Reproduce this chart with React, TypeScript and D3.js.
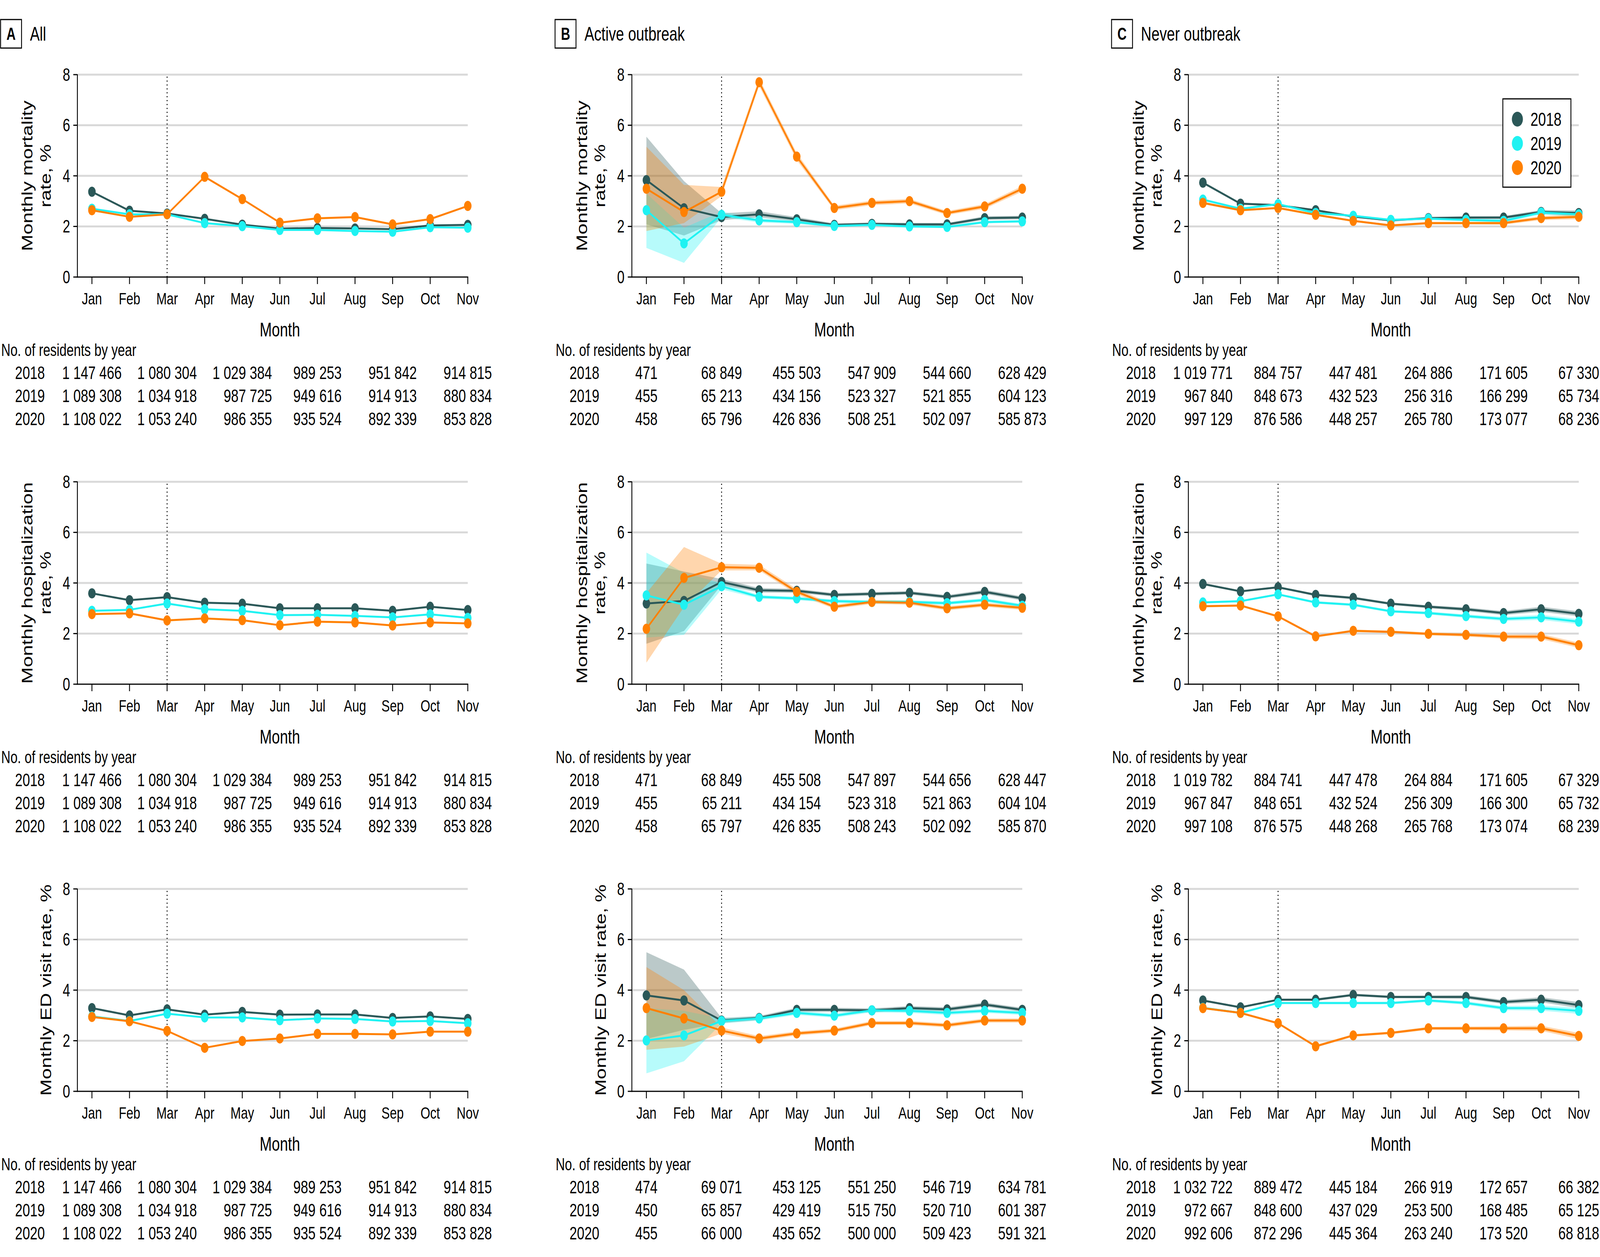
import React from 'react';
import * as d3 from 'd3';

// ---- data ----
const months = ['Jan', 'Feb', 'Mar', 'Apr', 'May', 'Jun', 'Jul', 'Aug', 'Sep', 'Oct', 'Nov'];
const tableMonths = ['Jan', 'Mar', 'May', 'Jul', 'Sep', 'Nov'];
const years = ['2018', '2019', '2020'];
const yTicks = [0, 2, 4, 6, 8];
const panelLetters = ['A', 'B', 'C'];
const panelTitles = ['All', 'Active outbreak', 'Never outbreak'];
const outcomeTitles = [
  ['Monthly mortality', 'rate, %'],
  ['Monthly hospitalization', 'rate, %'],
  ['Monthly ED visit rate, %'],
];

// mortality
const mortAll2018 = [3.37, 2.62, 2.51, 2.3, 2.07, 1.91, 1.94, 1.92, 1.89, 2.04, 2.06];
const mortAll2019 = [2.7, 2.48, 2.48, 2.13, 2.01, 1.86, 1.86, 1.82, 1.79, 1.97, 1.95];
const mortAll2020 = [2.64, 2.38, 2.48, 3.96, 3.08, 2.15, 2.32, 2.37, 2.08, 2.29, 2.81];
const mortActive2018 = [3.83, 2.72, 2.37, 2.48, 2.28, 2.06, 2.1, 2.08, 2.08, 2.33, 2.35];
const mortActive2019 = [2.64, 1.33, 2.46, 2.24, 2.17, 2.02, 2.06, 2.0, 1.98, 2.17, 2.2];
const mortActive2020 = [3.49, 2.57, 3.37, 7.7, 4.76, 2.73, 2.93, 3.0, 2.53, 2.79, 3.49];
const mortNever2018 = [3.73, 2.9, 2.84, 2.64, 2.39, 2.24, 2.33, 2.35, 2.35, 2.57, 2.53];
const mortNever2019 = [3.06, 2.7, 2.88, 2.53, 2.42, 2.26, 2.31, 2.26, 2.22, 2.55, 2.48];
const mortNever2020 = [2.93, 2.64, 2.73, 2.46, 2.22, 2.04, 2.13, 2.13, 2.13, 2.33, 2.38];

// hospitalization
const hospAll2018 = [3.59, 3.32, 3.44, 3.22, 3.18, 3.0, 3.0, 3.0, 2.9, 3.06, 2.93];
const hospAll2019 = [2.9, 2.94, 3.19, 2.96, 2.9, 2.73, 2.74, 2.7, 2.64, 2.76, 2.62];
const hospAll2020 = [2.77, 2.8, 2.52, 2.6, 2.53, 2.33, 2.47, 2.44, 2.32, 2.44, 2.4];
const hospActive2018 = [3.19, 3.29, 4.04, 3.71, 3.69, 3.53, 3.57, 3.61, 3.45, 3.65, 3.39];
const hospActive2019 = [3.51, 3.14, 3.87, 3.45, 3.39, 3.28, 3.25, 3.25, 3.2, 3.33, 3.1];
const hospActive2020 = [2.19, 4.2, 4.62, 4.6, 3.65, 3.06, 3.25, 3.22, 3.0, 3.14, 3.02];
const hospNever2018 = [3.96, 3.67, 3.83, 3.53, 3.41, 3.18, 3.06, 2.96, 2.81, 2.96, 2.78];
const hospNever2019 = [3.23, 3.28, 3.55, 3.23, 3.14, 2.88, 2.81, 2.69, 2.58, 2.64, 2.47];
const hospNever2020 = [3.08, 3.11, 2.68, 1.89, 2.11, 2.07, 1.99, 1.95, 1.88, 1.88, 1.54];

// ED visits
const edAll2018 = [3.29, 3.0, 3.24, 3.03, 3.14, 3.03, 3.04, 3.04, 2.9, 2.96, 2.86];
const edAll2019 = [2.96, 2.78, 3.07, 2.92, 2.92, 2.81, 2.88, 2.86, 2.76, 2.78, 2.69];
const edAll2020 = [2.94, 2.77, 2.39, 1.72, 1.99, 2.09, 2.27, 2.27, 2.25, 2.36, 2.36];
const edActive2018 = [3.79, 3.59, 2.8, 2.9, 3.22, 3.22, 3.2, 3.29, 3.24, 3.43, 3.22];
const edActive2019 = [2.01, 2.21, 2.78, 2.88, 3.1, 2.99, 3.2, 3.18, 3.1, 3.18, 3.1];
const edActive2020 = [3.29, 2.88, 2.4, 2.09, 2.29, 2.4, 2.7, 2.7, 2.61, 2.8, 2.8];
const edNever2018 = [3.59, 3.32, 3.62, 3.62, 3.81, 3.73, 3.73, 3.73, 3.53, 3.62, 3.41];
const edNever2019 = [3.3, 3.1, 3.49, 3.49, 3.49, 3.49, 3.59, 3.49, 3.29, 3.29, 3.18];
const edNever2020 = [3.29, 3.1, 2.69, 1.78, 2.21, 2.31, 2.49, 2.49, 2.49, 2.49, 2.19];

// 95% CI bands, active outbreak panels
const mortActive2018Lo = [2.08, 1.64, 2.25, 2.36, 2.2, 2.0, 2.04, 2.02, 2.02, 2.26, 2.28];
const mortActive2018Hi = [5.55, 3.79, 2.52, 2.6, 2.37, 2.12, 2.16, 2.14, 2.14, 2.4, 2.42];
const mortActive2019Lo = [1.15, 0.56, 2.36, 2.16, 2.1, 1.97, 2.01, 1.95, 1.93, 2.12, 2.15];
const mortActive2019Hi = [3.3, 1.95, 2.58, 2.32, 2.24, 2.07, 2.11, 2.05, 2.03, 2.22, 2.25];
const mortActive2020Lo = [1.82, 2.13, 3.2, 7.55, 4.62, 2.64, 2.84, 2.91, 2.45, 2.7, 3.38];
const mortActive2020Hi = [5.15, 3.64, 3.56, 7.85, 4.9, 2.82, 3.02, 3.09, 2.61, 2.88, 3.6];

const hospActive2018Lo = [1.6, 2.1, 3.92, 3.62, 3.61, 3.46, 3.5, 3.54, 3.38, 3.57, 3.31];
const hospActive2018Hi = [4.77, 4.45, 4.16, 3.8, 3.77, 3.6, 3.64, 3.68, 3.52, 3.73, 3.47];
const hospActive2019Lo = [1.84, 1.95, 3.75, 3.38, 3.32, 3.21, 3.18, 3.18, 3.13, 3.26, 3.03];
const hospActive2019Hi = [5.2, 4.4, 3.99, 3.52, 3.46, 3.35, 3.32, 3.32, 3.27, 3.4, 3.17];
const hospActive2020Lo = [0.85, 3.05, 4.5, 4.5, 3.55, 2.98, 3.17, 3.14, 2.92, 3.06, 2.94];
const hospActive2020Hi = [3.6, 5.42, 4.76, 4.72, 3.76, 3.14, 3.33, 3.3, 3.08, 3.22, 3.1];

const edActive2018Lo = [2.07, 2.43, 2.7, 2.82, 3.14, 3.14, 3.12, 3.21, 3.16, 3.35, 3.14];
const edActive2018Hi = [5.5, 4.81, 2.9, 2.98, 3.3, 3.3, 3.28, 3.37, 3.32, 3.51, 3.3];
const edActive2019Lo = [0.71, 1.19, 2.68, 2.8, 3.02, 2.91, 3.12, 3.1, 3.02, 3.1, 3.02];
const edActive2019Hi = [3.29, 3.18, 2.88, 2.96, 3.18, 3.07, 3.28, 3.26, 3.18, 3.26, 3.18];
const edActive2020Lo = [1.64, 1.77, 2.28, 2.0, 2.21, 2.32, 2.62, 2.62, 2.53, 2.72, 2.72];
const edActive2020Hi = [4.91, 4.0, 2.52, 2.18, 2.37, 2.48, 2.78, 2.78, 2.69, 2.88, 2.88];

// CI half widths, never outbreak panels
const mortNeverHalf = [0.05, 0.04, 0.04, 0.04, 0.04, 0.04, 0.05, 0.05, 0.06, 0.08, 0.1];
const hospNeverHalf = [0.04, 0.04, 0.04, 0.05, 0.05, 0.05, 0.06, 0.07, 0.08, 0.1, 0.1];
const edNeverHalf = [0.04, 0.04, 0.04, 0.05, 0.05, 0.05, 0.06, 0.07, 0.08, 0.1, 0.12];

// residents (Jan, Mar, May, Jul, Sep, Nov)
const resAll2018 = [1147466, 1080304, 1029384, 989253, 951842, 914815];
const resAll2019 = [1089308, 1034918, 987725, 949616, 914913, 880834];
const resAll2020 = [1108022, 1053240, 986355, 935524, 892339, 853828];

const resActiveMort2018 = [471, 68849, 455503, 547909, 544660, 628429];
const resActiveMort2019 = [455, 65213, 434156, 523327, 521855, 604123];
const resActiveMort2020 = [458, 65796, 426836, 508251, 502097, 585873];
const resActiveHosp2018 = [471, 68849, 455508, 547897, 544656, 628447];
const resActiveHosp2019 = [455, 65211, 434154, 523318, 521863, 604104];
const resActiveHosp2020 = [458, 65797, 426835, 508243, 502092, 585870];
const resActiveEd2018 = [474, 69071, 453125, 551250, 546719, 634781];
const resActiveEd2019 = [450, 65857, 429419, 515750, 520710, 601387];
const resActiveEd2020 = [455, 66000, 435652, 500000, 509423, 591321];

const resNeverMort2018 = [1019771, 884757, 447481, 264886, 171605, 67330];
const resNeverMort2019 = [967840, 848673, 432523, 256316, 166299, 65734];
const resNeverMort2020 = [997129, 876586, 448257, 265780, 173077, 68236];
const resNeverHosp2018 = [1019782, 884741, 447478, 264884, 171605, 67329];
const resNeverHosp2019 = [967847, 848651, 432524, 256309, 166300, 65732];
const resNeverHosp2020 = [997108, 876575, 448268, 265768, 173074, 68239];
const resNeverEd2018 = [1032722, 889472, 445184, 266919, 172657, 66382];
const resNeverEd2019 = [972667, 848600, 437029, 253500, 168485, 65125];
const resNeverEd2020 = [992606, 872296, 445364, 263240, 173520, 68818];

// ---- assemble ----
type Series = { values: number[]; lo?: number[]; hi?: number[] };
type Panel = { series: Series[]; residents: number[][] };

const fromHalf = (v: number[], h: number[]) => ({
  values: v,
  lo: v.map((d, i) => d - h[i]),
  hi: v.map((d, i) => d + h[i]),
});

const grid: Panel[][] = [
  [
    { series: [{ values: mortAll2018 }, { values: mortAll2019 }, { values: mortAll2020 }], residents: [resAll2018, resAll2019, resAll2020] },
    {
      series: [
        { values: mortActive2018, lo: mortActive2018Lo, hi: mortActive2018Hi },
        { values: mortActive2019, lo: mortActive2019Lo, hi: mortActive2019Hi },
        { values: mortActive2020, lo: mortActive2020Lo, hi: mortActive2020Hi },
      ],
      residents: [resActiveMort2018, resActiveMort2019, resActiveMort2020],
    },
    {
      series: [fromHalf(mortNever2018, mortNeverHalf), fromHalf(mortNever2019, mortNeverHalf), fromHalf(mortNever2020, mortNeverHalf)],
      residents: [resNeverMort2018, resNeverMort2019, resNeverMort2020],
    },
  ],
  [
    { series: [{ values: hospAll2018 }, { values: hospAll2019 }, { values: hospAll2020 }], residents: [resAll2018, resAll2019, resAll2020] },
    {
      series: [
        { values: hospActive2018, lo: hospActive2018Lo, hi: hospActive2018Hi },
        { values: hospActive2019, lo: hospActive2019Lo, hi: hospActive2019Hi },
        { values: hospActive2020, lo: hospActive2020Lo, hi: hospActive2020Hi },
      ],
      residents: [resActiveHosp2018, resActiveHosp2019, resActiveHosp2020],
    },
    {
      series: [fromHalf(hospNever2018, hospNeverHalf), fromHalf(hospNever2019, hospNeverHalf), fromHalf(hospNever2020, hospNeverHalf)],
      residents: [resNeverHosp2018, resNeverHosp2019, resNeverHosp2020],
    },
  ],
  [
    { series: [{ values: edAll2018 }, { values: edAll2019 }, { values: edAll2020 }], residents: [resAll2018, resAll2019, resAll2020] },
    {
      series: [
        { values: edActive2018, lo: edActive2018Lo, hi: edActive2018Hi },
        { values: edActive2019, lo: edActive2019Lo, hi: edActive2019Hi },
        { values: edActive2020, lo: edActive2020Lo, hi: edActive2020Hi },
      ],
      residents: [resActiveEd2018, resActiveEd2019, resActiveEd2020],
    },
    {
      series: [fromHalf(edNever2018, edNeverHalf), fromHalf(edNever2019, edNeverHalf), fromHalf(edNever2020, edNeverHalf)],
      residents: [resNeverEd2018, resNeverEd2019, resNeverEd2020],
    },
  ],
];

// ---- layout / style ----
const W = 5500;
const H = 3217;
const FONT = '"Liberation Sans", Arial, sans-serif';
const colors = ['#2b5858', '#1ff2f2', '#ff8000'];
const panelX = [0, 1906, 3819];
const rowY = [0, 1042, 2084];
const axisX = 266;
const janX = 316;
const novX = 1608;
const plotTop = 191;
const plotBottom = 709;

const fmt = (n: number) => d3.format(',')(n).replace(/,/g, ' ');
// rough text width for Liberation Sans digits / spaces
const numWidth = (s: string, fs: number) =>
  s.split('').reduce((w, ch) => w + (ch === ' ' ? 0.278 : 0.556) * fs, 0);

const Chart: React.FC<{ r: number; p: number }> = ({ r, p }) => {
  const ox = panelX[p];
  const oy = rowY[r];
  const panel = grid[r][p];
  const x = d3.scalePoint<string>().domain(months).range([ox + janX, ox + novX]);
  const y = d3.scaleLinear().domain([0, 8]).range([oy + plotBottom, oy + plotTop]);
  const xi = (i: number) => x(months[i]) as number;

  const line = d3.line<number>().x((_, i) => xi(i)).y(d => y(d));

  const bandPath = (s: Series) => {
    if (!s.lo || !s.hi) return null;
    const a = d3
      .area<number>()
      .x((_, i) => xi(i))
      .y0((_, i) => y(s.lo![i]))
      .y1((_, i) => y(s.hi![i]));
    return a(s.values);
  };

  const yTitle = outcomeTitles[r];
  const cy = (y(0) + y(8)) / 2;
  const tableFs = 46;

  return (
    <g>
      {/* gridlines */}
      {yTicks.filter(t => t > 0).map(t => (
        <line key={'g' + t} x1={ox + axisX + 2} x2={ox + novX} y1={y(t)} y2={y(t)} stroke="#d9d9d9" strokeWidth={5} />
      ))}
      {/* y axis */}
      <line x1={ox + axisX} x2={ox + axisX} y1={y(0) + 1.5} y2={y(8) - 1} stroke="#000" strokeWidth={3} />
      {yTicks.map(t => (
        <g key={'yt' + t}>
          <line x1={ox + axisX - 14} x2={ox + axisX} y1={y(t)} y2={y(t)} stroke="#000" strokeWidth={3} />
          <text x={ox + axisX - 25} y={y(t) + 16} textAnchor="end" fontSize={46} fontFamily={FONT}>
            {t}
          </text>
        </g>
      ))}
      {/* x axis */}
      <line x1={ox + axisX} x2={ox + novX + 1.5} y1={y(0)} y2={y(0)} stroke="#000" strokeWidth={3} />
      {months.map(m => (
        <g key={'xt' + m}>
          <line x1={x(m)} x2={x(m)} y1={y(0)} y2={y(0) + 18} stroke="#000" strokeWidth={3} />
          <text x={x(m)} y={oy + 779} textAnchor="middle" fontSize={43} fontFamily={FONT}>
            {m}
          </text>
        </g>
      ))}
      <text x={ox + (janX + novX) / 2} y={oy + 861} textAnchor="middle" fontSize={50} fontFamily={FONT}>
        Month
      </text>
      {/* March marker */}
      <line x1={x('Mar')} x2={x('Mar')} y1={y(0)} y2={y(8)} stroke="#000" strokeWidth={3} strokeDasharray="3 7" />

      {/* y title */}
      {yTitle.length === 2 ? (
        <>
          <text transform={`translate(${ox + 112},${cy}) rotate(-90)`} textAnchor="middle" fontSize={51} fontFamily={FONT}>
            {yTitle[0]}
          </text>
          <text transform={`translate(${ox + 174},${cy}) rotate(-90)`} textAnchor="middle" fontSize={51} fontFamily={FONT}>
            {yTitle[1]}
          </text>
        </>
      ) : (
        <text transform={`translate(${ox + 176},${cy}) rotate(-90)`} textAnchor="middle" fontSize={51} fontFamily={FONT}>
          {yTitle[0]}
        </text>
      )}

      {/* bands */}
      {panel.series.map((s, k) => {
        const d = bandPath(s);
        return d ? <path key={'b' + k} d={d} fill={colors[k]} fillOpacity={0.32} stroke="none" /> : null;
      })}
      {/* lines and points */}
      {panel.series.map((s, k) => (
        <g key={'s' + k}>
          <path d={line(s.values) || ''} fill="none" stroke={colors[k]} strokeWidth={5} strokeLinejoin="round" />
          {s.values.map((v, i) => (
            <circle key={i} cx={xi(i)} cy={y(v)} r={13} fill={colors[k]} />
          ))}
        </g>
      ))}

      {/* residents table */}
      <text x={ox + 4} y={oy + 911} fontSize={44} fontFamily={FONT}>
        No. of residents by year
      </text>
      {years.map((yr, k) => (
        <text key={'yr' + yr} x={ox + 103} y={oy + 970 + k * 59} textAnchor="middle" fontSize={tableFs} fontFamily={FONT}>
          {yr}
        </text>
      ))}
      {tableMonths.map((m, c) => {
        const strs = panel.residents.map(row => fmt(row[c]));
        const maxW = d3.max(strs, s => numWidth(s, tableFs)) || 0;
        const right = (x(m) as number) + maxW / 2;
        return strs.map((s, k) => (
          <text key={'n' + c + '-' + k} x={right} y={oy + 970 + k * 59} textAnchor="end" fontSize={tableFs} fontFamily={FONT}>
            {s}
          </text>
        ));
      })}
    </g>
  );
};

const App: React.FC = () => {
  const lx = panelX[2] + 1347;
  return (
    <>
      <style>{'html,body{margin:0;padding:0;overflow:hidden;background:#fff}'}</style>
      <svg
        viewBox={`0 0 ${W} ${H}`}
        preserveAspectRatio="none"
        style={{ position: 'absolute', left: 0, top: 0, width: '100vw', height: '100vh', display: 'block' }}
      >
        <rect width={W} height={H} fill="#fff" />
        {panelLetters.map((L, p) => (
          <g key={L}>
            <rect x={panelX[p] + 2} y={50} width={72} height={73} fill="none" stroke="#000" strokeWidth={3} />
            <text x={panelX[p] + 38} y={102} textAnchor="middle" fontSize={44} fontWeight="bold" fontFamily={FONT}>
              {L}
            </text>
            <text x={panelX[p] + 103} y={104} fontSize={50} fontFamily={FONT}>
              {panelTitles[p]}
            </text>
          </g>
        ))}
        {[0, 1, 2].map(r => [0, 1, 2].map(p => <Chart key={r + '-' + p} r={r} p={p} />))}
        {/* legend */}
        <rect x={lx} y={253} width={234} height={226} fill="#fff" stroke="#000" strokeWidth={3} />
        {years.map((yr, k) => (
          <g key={'lg' + yr}>
            <circle cx={lx + 50} cy={305 + k * 62} r={19} fill={colors[k]} />
            <text x={lx + 95} y={305 + k * 62 + 17} fontSize={48} fontFamily={FONT}>
              {yr}
            </text>
          </g>
        ))}
      </svg>
    </>
  );
};

export default App;
